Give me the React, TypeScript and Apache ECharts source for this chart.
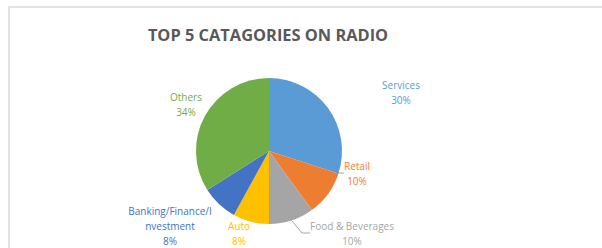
import React, { useEffect, useRef } from "react";
import * as echarts from "echarts";

const categories = ["Services", "Retail", "Food & Beverages", "Auto", "Banking/Finance/Investment", "Others"];
const values = [30, 10, 10, 8, 8, 34];
const colors = ["#5B9BD5", "#ED7D31", "#A5A5A5", "#FFC000", "#4472C4", "#70AD47"];
const titleText = "TOP 5 CATAGORIES ON RADIO";

// label anchor positions (center of label block), in px
const labelPos: [number, number][] = [
  [401, 92],
  [357, 173],
  [352, 233],
  [239, 233],
  [170, 226],
  [186, 104],
];
const showLine = [false, true, true, false, false, false];

function wrap(name: string): string {
  const n = 17;
  if (name.length <= n) return name;
  return name.slice(0, n) + "\n" + name.slice(n);
}

export default function App() {
  const ref = useRef<HTMLDivElement>(null);
  useEffect(() => {
    document.body.style.margin = "0";
    const chart = echarts.init(ref.current!, null, { renderer: "svg" });
    chart.setOption({
      animation: false,
      backgroundColor: "#ffffff",
      graphic: [
        {
          type: "rect",
          shape: { x: 9, y: 7, width: 620, height: 260 },
          style: { fill: "none", stroke: "#d9d9d9", lineWidth: 1.5 },
          silent: true,
        },
        {
          type: "text",
          x: 268,
          y: 26,
          silent: true,
          style: {
            text: titleText,
            textAlign: "center",
            textVerticalAlign: "top",
            fontFamily: "Open Sans",
            fontSize: 16.4,
            fontWeight: "bold",
            fill: "#595959",
          },
        },
      ],
      series: [
        {
          type: "pie",
          center: [269, 151],
          radius: 73,
          startAngle: 90,
          clockwise: true,
          itemStyle: { borderColor: "#ffffff", borderWidth: 0 },
          label: {
            show: true,
            position: "outside",
            formatter: (p: any) => wrap(p.name) + "\n" + p.value + "%",
            fontFamily: "Open Sans",
            fontSize: 10,
            lineHeight: 15,
            align: "center",
          },
          labelLine: { show: true, length: 8, length2: 8, lineStyle: { color: "#a6a6a6", width: 1 } },
          labelLayout: (params: any) => {
            const i = params.dataIndex;
            return { x: labelPos[i][0], y: labelPos[i][1], align: "center", verticalAlign: "middle" };
          },
          data: categories.map((c, i) => ({
            name: c,
            value: values[i],
            itemStyle: { color: colors[i] },
            label: { color: colors[i] },
            labelLine: { show: showLine[i] },
          })),
        },
      ],
    });
    return () => chart.dispose();
  }, []);
  return <div ref={ref} style={{ width: 602, height: 248, position: "absolute", left: 0, top: 0 }} />;
}
